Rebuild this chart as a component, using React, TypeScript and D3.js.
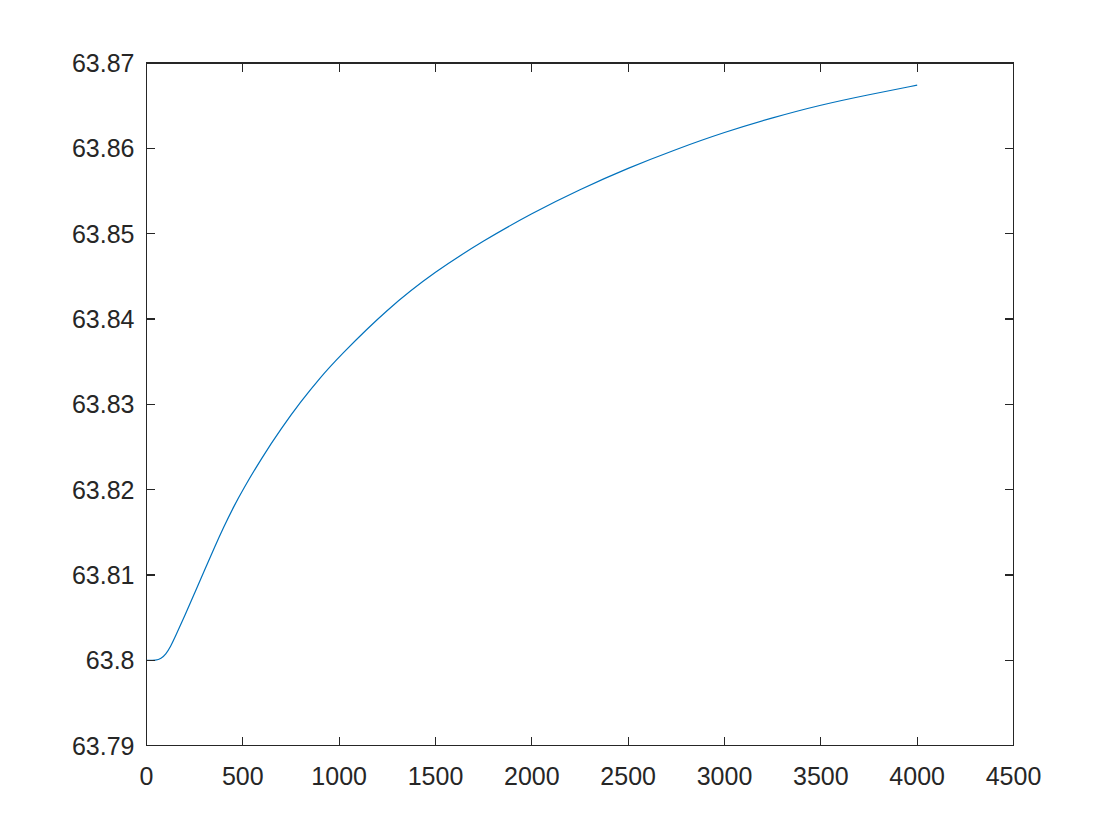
import React, { useEffect, useRef } from "react";
import * as d3 from "d3";

const xValues = [0, 50, 75, 100, 125, 150, 200, 250, 300, 350, 400, 450, 500, 600, 700, 800, 900, 1000, 1250, 1500, 1750, 2000, 2250, 2500, 2750, 3000, 3250, 3500, 3750, 4000];
const yValues = [63.8, 63.8, 63.8002, 63.8007, 63.8016, 63.8028, 63.8053, 63.8079, 63.8105, 63.8131, 63.8156, 63.8179, 63.82, 63.8238, 63.8272, 63.8303, 63.8331, 63.8356, 63.8412, 63.8456, 63.8492, 63.8524, 63.8552, 63.8577, 63.8599, 63.8619, 63.8636, 63.8651, 63.8663, 63.8674];

const xTicks = [0, 500, 1000, 1500, 2000, 2500, 3000, 3500, 4000, 4500];
const yTicks = [63.79, 63.8, 63.81, 63.82, 63.83, 63.84, 63.85, 63.86, 63.87];
const yTickLabels = ["63.79", "63.8", "63.81", "63.82", "63.83", "63.84", "63.85", "63.86", "63.87"];

const W = 1120;
const H = 840;
const left = 146.5;
const right = 1013.5;
const top = 63;
const bottom = 745.7;
const axisColor = "#262626";
const lineColor = "#0072BD";
const font = "'Liberation Sans', Arial, Helvetica, sans-serif";

export default function App() {
  const ref = useRef<SVGSVGElement>(null);
  useEffect(() => {
    const svg = d3.select(ref.current);
    svg.selectAll("*").remove();
    const x = d3.scaleLinear().domain([0, 4500]).range([left, right]);
    const y = d3.scaleLinear().domain([63.79, 63.87]).range([bottom, top]);

    svg.append("rect").attr("x", 0).attr("y", 0).attr("width", W).attr("height", H).attr("fill", "#fff");

    const data = xValues.map((v, i) => [v, yValues[i]] as [number, number]);
    const line = d3
      .line<[number, number]>()
      .x((d) => x(d[0]))
      .y((d) => y(d[1]))
      .curve(d3.curveBasis);
    svg
      .append("path")
      .attr("d", line(data))
      .attr("fill", "none")
      .attr("stroke", lineColor)
      .attr("stroke-width", 1.2);

    const g = svg.append("g").attr("stroke", axisColor).attr("stroke-width", 1.2).attr("shape-rendering", "crispEdges");
    g.append("rect")
      .attr("x", left)
      .attr("y", top)
      .attr("width", right - left)
      .attr("height", bottom - top)
      .attr("fill", "none");
    const tl = 8.5;
    xTicks.forEach((t) => {
      const px = x(t);
      g.append("line").attr("x1", px).attr("x2", px).attr("y1", bottom).attr("y2", bottom - tl);
      g.append("line").attr("x1", px).attr("x2", px).attr("y1", top).attr("y2", top + tl);
      svg
        .append("text")
        .attr("x", px)
        .attr("y", bottom + 30)
        .attr("text-anchor", "middle")
        .attr("dominant-baseline", "central")
        .attr("font-family", font)
        .attr("font-size", 25)
        .attr("fill", axisColor)
        .text(String(t));
    });
    yTicks.forEach((t, i) => {
      const py = y(t);
      g.append("line").attr("x1", left).attr("x2", left + tl).attr("y1", py).attr("y2", py);
      g.append("line").attr("x1", right).attr("x2", right - tl).attr("y1", py).attr("y2", py);
      svg
        .append("text")
        .attr("x", left - 12)
        .attr("y", py)
        .attr("text-anchor", "end")
        .attr("dominant-baseline", "central")
        .attr("font-family", font)
        .attr("font-size", 25)
        .attr("fill", axisColor)
        .text(yTickLabels[i]);
    });
  }, []);
  return (
    <svg
      ref={ref}
      width={W}
      height={H}
      style={{ position: "absolute", left: 0, top: 0, display: "block" }}
    />
  );
}
